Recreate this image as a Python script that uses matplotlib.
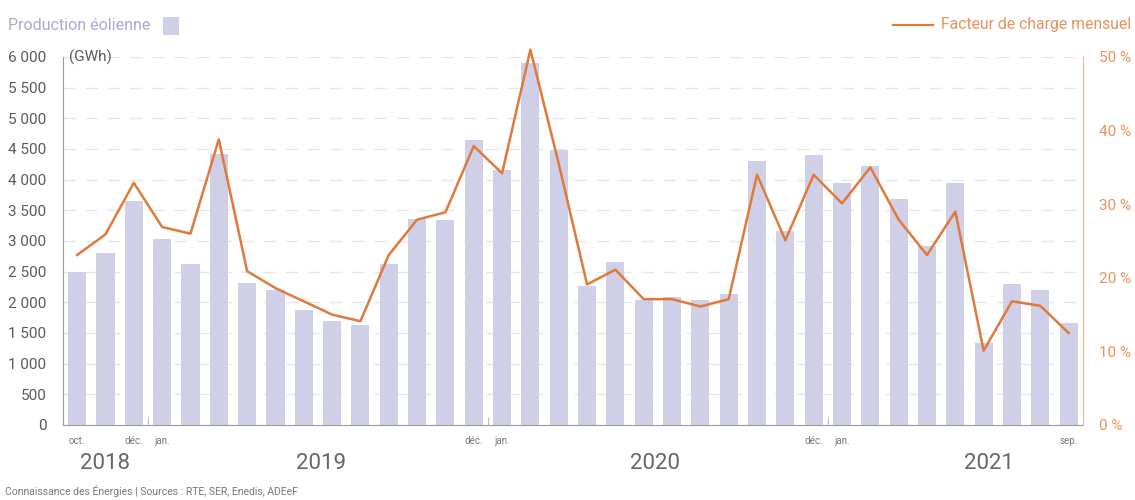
"""Production éolienne mensuelle et facteur de charge, oct. 2018 - sep. 2021."""

import matplotlib

matplotlib.use("Agg")

import matplotlib.pyplot as plt
import matplotlib.transforms as mtransforms
import numpy as np
from matplotlib.lines import Line2D
from matplotlib.patches import Rectangle
from matplotlib.ticker import FuncFormatter

plt.rcParams["font.family"] = ["Roboto", "DejaVu Sans"]

BAR = "#CFD0E8"
LEGEND_BAR = "#A9A9D6"
ORANGE = "#E07A3C"
ORANGE_TXT = "#E8925C"
GREY_TXT = "#5A5A5A"
GRID = "#E6E6E6"

# oct. 2018 -> sep. 2021, one value per month
months = [
    "oct.", "nov.", "déc.",
    "jan.", "fév.", "mar.", "avr.", "mai", "juin", "juil.", "août", "sep.", "oct.", "nov.", "déc.",
    "jan.", "fév.", "mar.", "avr.", "mai", "juin", "juil.", "août", "sep.", "oct.", "nov.", "déc.",
    "jan.", "fév.", "mar.", "avr.", "mai", "juin", "juil.", "août", "sep.",
]
production_gwh = [
    2490, 2800, 3650,
    3040, 2620, 4420, 2320, 2200, 1880, 1700, 1635, 2620, 3360, 3345, 4650,
    4150, 5900, 4480, 2270, 2650, 2040, 2090, 2030, 2135, 4310, 3165, 4410,
    3940, 4220, 3690, 2920, 3940, 1335, 2295, 2205, 1655,
]
load_factor_pct = [
    23.1, 25.9, 32.9,
    26.9, 26.0, 38.8, 20.9, 18.6, 16.8, 15.0, 14.1, 23.1, 27.9, 28.9, 37.9,
    34.2, 51.0, 35.5, 19.1, 21.1, 17.1, 17.1, 16.1, 17.1, 34.0, 25.1, 34.0,
    30.1, 35.0, 27.9, 23.1, 29.0, 10.1, 16.8, 16.2, 12.5,
]
shown_month_idx = [0, 2, 3, 14, 15, 26, 27, 35]
years = ["2018", "2019", "2020", "2021"]
year_pos = [1.0, 8.6, 20.4, 32.2]
year_breaks = [2.5, 14.5, 26.5]

x = np.arange(len(months))

fig = plt.figure(figsize=(11.35, 5.0), dpi=100)
ax = fig.add_axes([0.0555, 0.15, 0.8985, 0.736])
ax2 = ax.twinx()

ax.bar(x, production_gwh, width=0.64, color=BAR, zorder=2)
ax.set_xlim(-0.5, len(months) - 0.5)
ax.set_ylim(0, 6000)
ax.set_yticks(np.arange(0, 6001, 500))
ax.yaxis.set_major_formatter(FuncFormatter(lambda v, _: f"{int(v):,}".replace(",", " ")))
ax.tick_params(axis="y", length=0, labelsize=11, labelcolor=GREY_TXT, pad=12)
for v in np.arange(500, 6001, 500):
    ax.axhline(v, color=GRID, lw=1.0, ls=(0, (9, 7)), zorder=1)

ax.set_xticks([x[i] for i in shown_month_idx])
ax.set_xticklabels([months[i] for i in shown_month_idx], fontsize=7, color="#777777")
ax.tick_params(axis="x", length=0, pad=8)
ax.set_xticks(year_breaks, minor=True)
ax.tick_params(axis="x", which="minor", direction="in", length=6, color="#BBBBBB", width=0.8)

ax.spines["top"].set_visible(False)
ax2.spines["top"].set_visible(False)
ax.spines["left"].set_color("#9A9A9A")
ax.spines["bottom"].set_color("#9A9A9A")
ax.spines["right"].set_visible(False)
ax2.spines["left"].set_visible(False)
ax2.spines["bottom"].set_visible(False)
ax2.spines["right"].set_color("#EDB48E")

ax2.plot(x, load_factor_pct, color=ORANGE, lw=1.8, zorder=3, clip_on=False)
ax2.set_ylim(0, 50)
ax2.set_yticks(np.arange(0, 51, 10))
ax2.yaxis.set_major_formatter(FuncFormatter(lambda v, _: f"{int(v)} %"))
ax2.tick_params(axis="y", length=0, labelsize=11, labelcolor=ORANGE_TXT, pad=12)

trans = mtransforms.blended_transform_factory(ax.transData, fig.transFigure)
for label, pos in zip(years, year_pos):
    fig.text(pos, 0.073, label, transform=trans, ha="center", va="center",
             fontsize=16, color="#666666")

ax.text(0.006, 1.0, "(GWh)", transform=ax.transAxes, ha="left", va="center",
        fontsize=11, color=GREY_TXT)

# legends drawn as free text, as in the original layout
fig.text(0.007, 0.948, "Production éolienne", ha="left", va="center",
         fontsize=11.5, color=LEGEND_BAR)
fig.patches.append(Rectangle((0.1435, 0.93), 0.0145, 0.036, transform=fig.transFigure,
                             facecolor=BAR, edgecolor="none"))
fig.lines.append(Line2D([0.787, 0.822], [0.95, 0.95], transform=fig.transFigure,
                        color=ORANGE, lw=1.6))
fig.text(0.997, 0.95, "Facteur de charge mensuel", ha="right", va="center",
         fontsize=11.3, color=ORANGE_TXT)

fig.text(0.004, 0.018, "Connaissance des Énergies | Sources : RTE, SER, Enedis, ADEeF",
         ha="left", va="center", fontsize=7.5, color="#777777")

fig.savefig("out.png", dpi=100, facecolor="white")
